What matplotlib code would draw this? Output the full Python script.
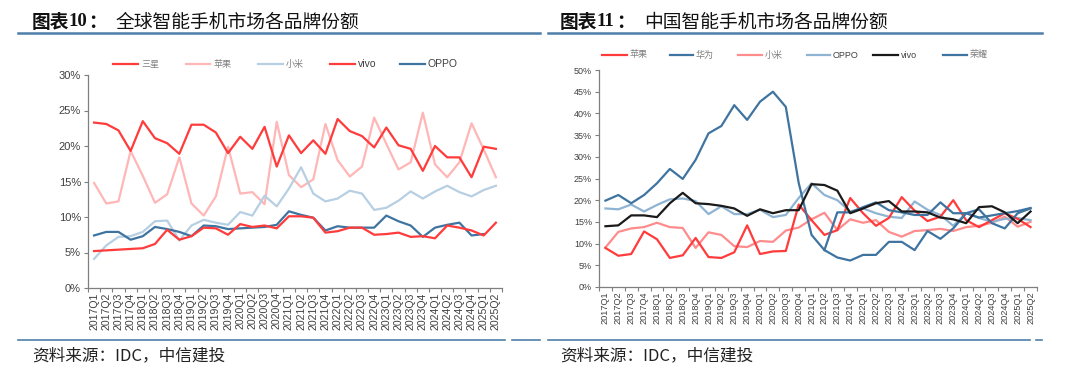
import matplotlib
matplotlib.use("Agg")
import matplotlib.pyplot as plt
import numpy as np

plt.rcParams['font.family'] = ['Liberation Sans', 'Noto Sans CJK SC', 'DejaVu Sans']

quarters = ["2017Q1","2017Q2","2017Q3","2017Q4","2018Q1","2018Q2","2018Q3","2018Q4",
            "2019Q1","2019Q2","2019Q3","2019Q4","2020Q1","2020Q2","2020Q3","2020Q4",
            "2021Q1","2021Q2","2021Q3","2021Q4","2022Q1","2022Q2","2022Q3","2022Q4",
            "2023Q1","2023Q2","2023Q3","2023Q4","2024Q1","2024Q2","2024Q3","2024Q4",
            "2025Q1","2025Q2"]

# Global market share (%)
g_samsung = [23.3,23.1,22.2,19.3,23.5,21.1,20.4,18.9,23.0,23.0,21.9,19.0,21.3,19.6,22.7,17.1,
             21.5,19.0,20.8,18.9,23.8,22.1,21.4,19.8,22.6,20.1,19.6,16.5,20.0,18.4,18.4,15.6,19.9,19.6]
g_apple = [14.8,11.9,12.2,19.3,15.8,12.0,13.2,18.4,11.9,10.2,12.9,19.9,13.3,13.5,11.8,23.4,
           15.9,14.2,15.3,23.1,18.0,15.7,17.1,24.0,20.3,16.7,17.7,24.7,17.4,15.6,17.7,23.2,19.5,15.6]
g_xiaomi = [4.1,6.0,7.2,7.3,7.9,9.4,9.5,6.7,8.8,9.6,9.2,8.9,10.7,10.2,13.0,11.5,
            14.0,17.0,13.3,12.2,12.6,13.7,13.3,11.0,11.3,12.3,13.6,12.6,13.6,14.4,13.5,12.9,13.8,14.4]
g_vivo = [5.2,5.3,5.4,5.5,5.6,6.2,8.2,6.8,7.3,8.5,8.4,7.5,9.0,8.6,8.8,8.4,
          10.1,10.1,9.9,7.8,8.0,8.5,8.5,7.5,7.6,7.8,7.2,7.3,7.0,8.8,8.5,8.1,7.4,9.2]
g_oppo = [7.4,7.9,7.9,6.8,7.3,8.6,8.3,7.9,7.3,8.8,8.7,8.3,8.4,8.5,8.6,8.9,
          10.8,10.3,9.9,8.1,8.7,8.5,8.5,8.5,10.2,9.4,8.8,7.2,8.5,8.9,9.2,7.4,7.6,np.nan]

# China market share (%)
c_apple = [9.0,7.2,7.6,12.8,11.0,6.7,7.3,11.3,6.9,6.7,8.0,14.2,7.6,8.2,8.3,19.0,
           15.4,12.0,13.1,20.5,17.0,14.1,15.9,20.7,17.6,15.2,16.2,20.0,15.4,13.8,15.4,17.0,15.7,13.8]
c_huawei = [19.9,21.2,19.3,21.2,23.9,27.2,24.9,29.3,35.4,37.1,41.9,38.5,42.7,45.0,41.5,24.0,
            12.0,8.5,6.8,6.1,7.4,7.4,10.4,10.4,8.5,12.9,11.1,13.5,17.0,16.0,16.5,17.0,17.5,18.2]
c_xiaomi = [9.1,12.7,13.5,13.8,14.8,13.8,13.6,9.0,12.6,12.0,9.4,9.2,10.6,10.4,13.0,13.7,
            15.6,17.1,13.1,15.6,14.8,15.4,12.7,11.6,12.9,13.1,13.4,12.9,13.8,14.1,14.8,16.2,13.9,15.0]
c_oppo = [18.1,17.9,19.0,17.4,18.9,20.2,20.4,19.8,16.8,18.6,16.8,16.8,17.8,16.1,16.6,20.5,
          23.9,21.2,20.0,17.4,18.1,17.0,16.2,15.9,19.7,17.8,16.6,14.1,17.0,15.9,15.0,15.7,15.9,15.4]
c_vivo = [14.0,14.2,16.5,16.5,16.1,19.3,21.7,19.3,19.1,18.7,18.1,16.4,17.9,17.0,17.7,17.7,
          23.7,23.5,22.2,17.0,18.1,19.3,19.8,17.4,17.4,17.2,16.0,15.6,14.7,18.4,18.6,17.2,14.7,17.4]
c_honor = [np.nan]*17 + [8.5,17.2,17.2,18.4,19.5,17.7,17.2,16.6,16.6,19.5,17.0,17.0,17.9,14.7,13.5,17.0,18.1]

W, H = 1080, 376
fig = plt.figure(figsize=(W/100, H/100), dpi=100)

def add_ax(x0, x1, ytop, ybot):
    return fig.add_axes([x0/W, 1-ybot/H, (x1-x0)/W, (ybot-ytop)/H])

RED = '#ff3b3b'
PINK = '#ffb6b6'
LBLUE = '#b7cfe2'
DBLUE = '#3f74a0'
TXT = '#404040'

def style(ax, n, ymax, step, ysize, xsize):
    for s in ['top', 'right']:
        ax.spines[s].set_visible(False)
    for s in ['left', 'bottom']:
        ax.spines[s].set_color('#7f7f7f')
        ax.spines[s].set_linewidth(0.9)
    ax.set_ylim(0, ymax)
    yt = np.arange(0, ymax + 1e-9, step)
    ax.set_yticks(yt)
    ax.set_yticklabels([f"{int(round(v))}%" for v in yt], fontsize=ysize, color=TXT)
    ax.set_xticks(range(n))
    ax.set_xticklabels(quarters, rotation=90, fontsize=xsize, color=TXT)
    ax.set_xticks(np.arange(-0.5, n, 1.0), minor=True)
    ax.tick_params(axis='x', which='major', length=0, pad=3)
    ax.tick_params(axis='x', which='minor', length=3, color='#7f7f7f', width=0.8)
    ax.tick_params(axis='y', length=3, color='#7f7f7f', width=0.8, pad=2)

x = np.arange(len(quarters))

# Left chart
ax1 = add_ax(88, 502, 75, 288)
ax1.plot(x, g_apple, color=PINK, lw=1.6, label='苹果')
ax1.plot(x, g_xiaomi, color=LBLUE, lw=1.6, label='小米')
ax1.plot(x, g_oppo, color=DBLUE, lw=1.6, label='OPPO')
ax1.plot(x, g_vivo, color=RED, lw=1.6, label='vivo')
ax1.plot(x, g_samsung, color=RED, lw=1.6, label='三星')
ax1.set_xlim(-0.41, 33.41)
style(ax1, len(quarters), 30, 5, 8, 7.6)

# Right chart
ax2 = add_ax(599, 1037, 70, 287)
ax2.plot(x, c_xiaomi, color='#ff8c8c', lw=1.6)
ax2.plot(x, c_oppo, color='#8fb4d3', lw=1.6)
ax2.plot(x, c_apple, color=RED, lw=1.6)
ax2.plot(x, c_huawei, color=DBLUE, lw=1.6)
ax2.plot(x, c_honor, color=DBLUE, lw=1.6)
ax2.plot(x, c_vivo, color='#1a1a1a', lw=1.6)
ax2.set_xlim(-0.46, 33.46)
style(ax2, len(quarters), 50, 5, 6.5, 6.6)

# Legends (drawn manually in figure pixel space)
def legend_item(x0, x1, y, color, label, tcolor, fs):
    fig.add_artist(plt.Line2D([x0/W, x1/W], [1-y/H, 1-y/H], color=color, lw=1.6))
    fig.text((x1+3)/W, 1-y/H, label, fontsize=fs, color=tcolor, va='center', ha='left')

legend_item(113, 138, 64, RED, '三星', '#7f7f7f', 6.5)
legend_item(186, 210, 64, PINK, '苹果', '#7f7f7f', 6.5)
legend_item(258, 283, 64, LBLUE, '小米', '#7f7f7f', 6.5)
legend_item(330, 355, 64, RED, 'vivo', TXT, 7.5)
legend_item(400, 425, 64, DBLUE, 'OPPO', TXT, 7.5)

legend_item(602, 627, 55, RED, '苹果', '#7f7f7f', 6.5)
legend_item(670, 693, 55, DBLUE, '华为', '#7f7f7f', 6.5)
legend_item(738, 762, 55, '#ff8c8c', '小米', '#7f7f7f', 6.5)
legend_item(807, 830, 55, '#8fb4d3', 'OPPO', TXT, 6.5)
legend_item(873, 898, 55, '#1a1a1a', 'vivo', TXT, 6.5)
legend_item(943, 967, 55, DBLUE, '荣耀', '#7f7f7f', 6.5)

# Titles
def title(x0, num, text):
    fig.text(x0/W, 1-22/H, '图表', fontsize=13.5, fontweight='bold', color='#111111',
             va='center', ha='left', family=['Noto Sans CJK SC'])
    fig.text((x0+37)/W, 1-22/H, num, fontsize=13.5, fontweight='bold', color='#111111',
             va='center', ha='left', family=['Liberation Serif'])
    fig.text((x0+56)/W, 1-22/H, '：', fontsize=13.5, fontweight='bold', color='#111111',
             va='center', ha='left', family=['Noto Sans CJK SC'])
    fig.text((x0+84)/W, 1-22/H, text, fontsize=13.5, color='#111111',
             va='center', ha='left', family=['Noto Sans CJK SC'])

title(32, '10', '全球智能手机市场各品牌份额')
title(560, '11', '中国智能手机市场各品牌份额')

LINEC = '#4f7fa8'
def hline(x0, x1, y, lw=1.8):
    fig.add_artist(plt.Line2D([x0/W, x1/W], [1-y/H, 1-y/H], color=LINEC, lw=lw))

hline(18, 540, 33)
hline(548, 1042, 33)
hline(18, 505, 340, 1.2)
hline(512, 540, 340, 1.2)
hline(548, 1030, 340, 1.2)
hline(1036, 1042, 340, 1.2)

fig.text(32/W, 1-356/H, '资料来源：IDC，中信建投', fontsize=12, color='#222222',
         va='center', ha='left', family=['Noto Sans CJK SC'], style='italic')
fig.text(560/W, 1-356/H, '资料来源：IDC，中信建投', fontsize=12, color='#222222',
         va='center', ha='left', family=['Noto Sans CJK SC'], style='italic')

fig.savefig('out.png', dpi=100)
